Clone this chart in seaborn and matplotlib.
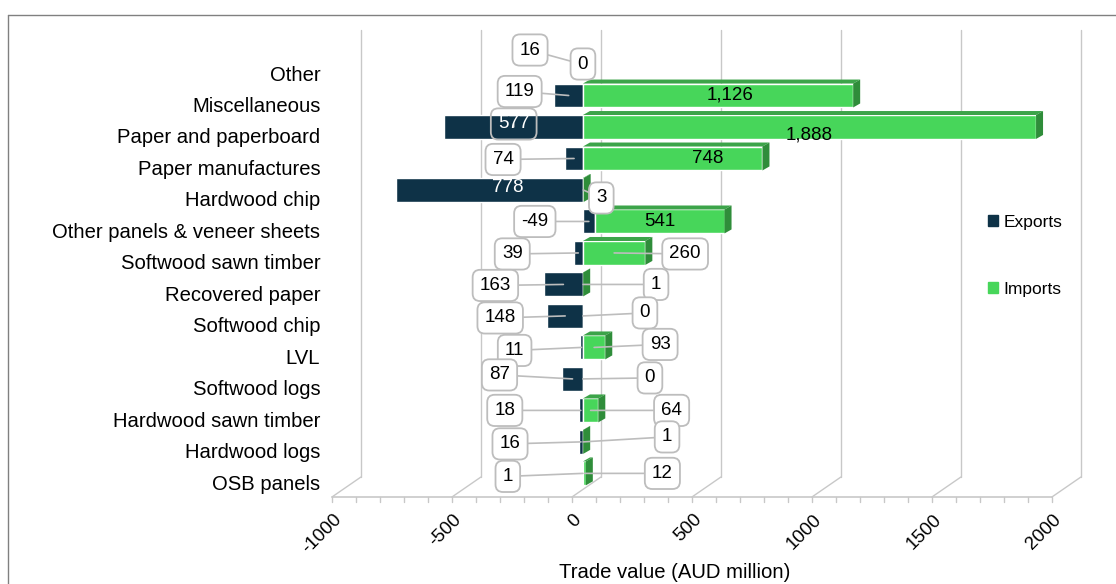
import matplotlib
matplotlib.use("Agg")
import matplotlib.pyplot as plt
import seaborn as sns
import pandas as pd
from matplotlib.patches import Patch
from matplotlib.lines import Line2D
from matplotlib.transforms import ScaledTranslation

# chart data (AUD million)
categories = ["Other", "Miscellaneous", "Paper and paperboard", "Paper manufactures", "Hardwood chip",
              "Other panels & veneer sheets", "Softwood sawn timber", "Recovered paper", "Softwood chip", "LVL",
              "Softwood logs", "Hardwood sawn timber", "Hardwood logs", "OSB panels"]
exports = [16, 119, 577, 74, 778, -49, 39, 163, 148, 11, 87, 18, 16, 1]
imports = [0, 1126, 1888, 748, 3, 541, 260, 1, 0, 93, 0, 64, 1, 12]
x_ticks = [-1000, -500, 0, 500, 1000, 1500, 2000]
series_names = ["Exports", "Imports"]

# callout placement: pixel offset from the middle of each bar, and how the label is drawn
exp_off = [(-51, 14), (-49, 4), (0, 3), (-71, -1), (18, 2), (-54, 0), (-66, -1), (-68, -1), (-65, -2),
           (-67, -3), (-73, 4), (-76, 0), (-71, -2), (-75, -3)]
exp_kind = ["box", "box", "inbox", "box", "in", "box", "box", "box", "box", "box", "box", "box", "box", "box"]
imp_off = [(0, 0), (12, 0), (0, -8), (35, 0), (18, -8), (0, 0), (71, -1), (73, 0), (62, 3), (66, 3),
           (67, 1), (81, 0), (84, 5), (78, 0)]
imp_kind = ["box", "in", "in", "in", "box", "in", "box", "box", "box", "box", "box", "box", "box", "box"]

NAVY = "#0e3247"
GREEN = "#47d65a"
GREEN_TOP = "#3ca449"
GREEN_SIDE = "#2f8d3a"
GREY = "#c8c8c8"
DPI = 100
W, H = 1116, 584
BAR_H = 0.76

sns.set_theme(style="white")
plt.rcParams["font.family"] = ["Liberation Sans", "DejaVu Sans"]
plt.rcParams["text.color"] = "black"
plt.rcParams["xtick.color"] = "black"
plt.rcParams["ytick.color"] = "black"

fig = plt.figure(figsize=(W / DPI, H / DPI), dpi=DPI)
ax_l, ax_r, ax_t, ax_b = 330, 1085, 30, 497
ax = fig.add_axes([ax_l / W, 1 - ax_b / H, (ax_r - ax_l) / W, (ax_b - ax_t) / H])

# exports drawn to the left (negative), imports stacked after them
df = pd.DataFrame({"category": categories, "value": [-v for v in exports]})
sns.barplot(data=df, x="value", y="category", color=NAVY, saturation=1, width=BAR_H, orient="h", ax=ax)
rows = list(range(len(categories)))
starts = [max(-v, 0) for v in exports]
ax.barh(rows, imports, left=starts, height=BAR_H, color=GREEN, zorder=2)

xlim = (-1054, 2092)
ax.set_xlim(*xlim)
ax.set_ylim(13.75, -1.08)
ppu = (ax_r - ax_l) / (xlim[1] - xlim[0])
row_px = (ax_b - ax_t) / (13.75 + 1.08)
for s in ax.spines.values():
    s.set_visible(False)

# depth faces of the import bars
dx, dy = 7 / ppu, 4 / row_px
for i in rows:
    if imports[i] <= 0:
        continue
    x0, x1 = starts[i], starts[i] + imports[i]
    top, bot = i - BAR_H / 2, i + BAR_H / 2
    ax.fill([x0, x1, x1 + dx, x0 + dx], [top, top, top - dy, top - dy], color=GREEN_TOP, lw=0, zorder=2)
    ax.fill([x1, x1 + dx, x1 + dx, x1], [top, top - dy, bot - dy, bot], color=GREEN_SIDE, lw=0, zorder=2)

# pseudo 3D wall / floor
back_y = (ax_b - 477) / (ax_b - ax_t)
xt = ax.get_xaxis_transform()
front, back = -11 / ppu, 18 / ppu
for t in x_ticks:
    ax.plot([t + back, t + back], [back_y, 1], color=GREY, lw=1, transform=xt, zorder=0, clip_on=False)
    ax.plot([t + front, t + back], [0, back_y], color=GREY, lw=1, transform=xt, zorder=0, clip_on=False)
ax.plot([x_ticks[0] + front, x_ticks[-1] + front], [0, 0], color=GREY, lw=1.2, transform=xt, clip_on=False)
for t in range(x_ticks[0], x_ticks[-1] + 1, 100):
    ax.plot([t + front, t + front], [0, -5 / (ax_b - ax_t)], color=GREY, lw=1, transform=xt, clip_on=False)

ax.set_xticks(x_ticks)
ax.set_xticklabels([str(t) for t in x_ticks], rotation=45, ha="right", rotation_mode="anchor", fontsize=13.5)
ax.tick_params(axis="x", length=0, pad=10)
for lab in ax.get_xticklabels():
    lab.set_transform(lab.get_transform() + ScaledTranslation(-10 / DPI, 0, fig.dpi_scale_trans))
ax.set_yticks(rows)
ax.set_yticklabels(categories, fontsize=14.6)
ax.tick_params(axis="y", length=0, pad=7)
for lab in ax.get_yticklabels():
    lab.set_transform(lab.get_transform() + ScaledTranslation(0, -9 / DPI, fig.dpi_scale_trans))
ax.set_xlabel("")
ax.set_ylabel("")


def callout(x, y, val, off, kind, text_color):
    txt = f"{val:,}"
    if kind == "in":
        ax.annotate(txt, (x, y), xytext=off, textcoords="offset pixels", ha="center", va="center",
                    fontsize=13.5, color=text_color, zorder=5)
        return
    face = "none" if kind == "inbox" else "white"
    ax.annotate(txt, (x, y), xytext=off, textcoords="offset pixels", ha="center", va="center",
                fontsize=13.5, color=text_color, zorder=5,
                bbox=dict(boxstyle="round,pad=0.38,rounding_size=0.4", fc=face, ec="#bdbdbd", lw=1.3),
                arrowprops=dict(arrowstyle="-", color="#bdbdbd", lw=1.2, shrinkA=0, shrinkB=0))


for i in rows:
    ex = -exports[i]
    callout(ex / 2, i, exports[i], exp_off[i], exp_kind[i], "white" if exp_kind[i] != "box" else "black")
    callout(starts[i] + imports[i] / 2, i, imports[i], imp_off[i], imp_kind[i], "black")

fig.text(675 / W, 1 - 573 / H, "Trade value (AUD million)", ha="center", va="center", fontsize=14.6)

handles = [Patch(color=NAVY), Patch(color=GREEN)]
fig.legend(handles, series_names, loc="center left", bbox_to_anchor=(972 / W, 1 - 256 / H), frameon=False,
           fontsize=12.5, handlelength=0.6, handleheight=0.6, handletextpad=0.3, labelspacing=3.0)

# chart frame
fig.add_artist(Line2D([8 / W, 8 / W], [0, 1 - 15 / H], color="#808080", lw=1))
fig.add_artist(Line2D([8 / W, 1], [1 - 15 / H, 1 - 15 / H], color="#808080", lw=1))

fig.savefig("out.png", dpi=DPI)
